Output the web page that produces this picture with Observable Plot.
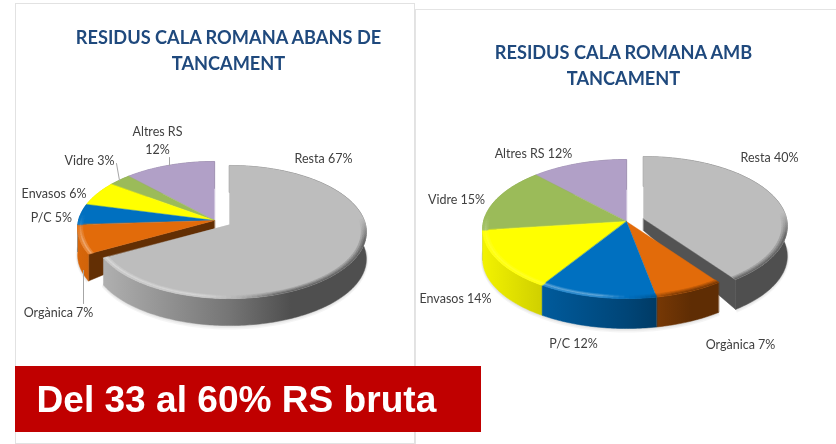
<!DOCTYPE html>
<html>
<head>
<meta charset="utf-8">
<script src="https://cdn.jsdelivr.net/npm/d3@7"></script>
<script src="https://cdn.jsdelivr.net/npm/@observablehq/plot@0.6"></script>
<style>html,body{margin:0;padding:0;background:#fff}svg{display:block;filter:blur(0.45px)}</style>
</head>
<body>
<div id="chart"></div>
<script>
// Data
const categories = ["Resta", "Orgànica", "P/C", "Envasos", "Vidre", "Altres RS"];
const valuesAbans = [67, 7, 5, 6, 3, 12];
const valuesAmb = [40, 7, 12, 14, 15, 12];
const titleAbans = ["RESIDUS CALA ROMANA ABANS DE", "TANCAMENT"];
const titleAmb = ["RESIDUS CALA ROMANA AMB", "TANCAMENT"];
const banner = "Del 33 al 60% RS bruta";

// Styles
const colors = ["#bdbdbd", "#e26b0a", "#0070c0", "#ffff00", "#9bbb59", "#b1a0c7"];

// Layout
const pieAbans = {id: "a", cx: 214, cy: 220, rx: 136, ry: 65.7, k: 0.113, dA: 8, dR: 27, ex: 15, ey: 4, cut: {slice: 1, edge: "start"}, last: 0};
const pieAmb = {id: "b", cx: 626, cy: 221, rx: 143, ry: 68.7, k: 0.108, dA: 12, dR: 30, ex: 17, ey: -3, cut: {slice: 0, edge: "end"}, last: -1};
const labelsAbans = [[323, 157], [58, 311], [51, 216], [53.5, 192], [89, 159], [157, 139]];
const labelsAmb = [[769, 156], [740, 343], [573, 342], [455, 297], [456, 198], [533, 152]];
const leaders = [[[169, 157], [169, 165]], [[116, 163], [119, 180]], [[83, 270], [83, 303]]];

const clamp = (v, a, b) => Math.max(a, Math.min(b, v));
const TAU = 2 * Math.PI;

function project(p, th, r, exploded) {
  const u = r * Math.sin(th), v = r * Math.cos(th), s = 1 / (1 + p.k * v);
  return {
    x: p.cx + (exploded ? p.ex : 0) + u * p.rx * s,
    y: p.cy + (exploded ? p.ey : 0) - v * p.ry * s,
    d: p.dA + (p.dR - p.dA) * r
  };
}
const shadeAt = t => t < 0 ? 0.62 + (-t) * 0.33 : t < 0.45 ? 0.62 - (t / 0.45) * 0.2 : 0.42;
function darken(c, f) { const q = d3.rgb(c); return d3.rgb(q.r * f, q.g * f, q.b * f).formatRgb(); }

let polyId = 0;
function addPoly(rows, pts, fill) {
  const z = polyId++;
  for (const q of pts) rows.push({x: q.x, y: q.y, z, fill});
}

// Horizontal shading of the pie's wall, one gradient per slice
function gradientDefs(pies) {
  const defs = d3.create("svg:defs");
  for (const p of pies) {
    colors.forEach((c, i) => {
      const off = i === 0 ? p.ex : 0;
      const g = defs.append("linearGradient").attr("id", `wall-${p.id}-${i}`)
        .attr("gradientUnits", "userSpaceOnUse")
        .attr("x1", p.cx + off - p.rx).attr("x2", p.cx + off + p.rx).attr("y1", 0).attr("y2", 0);
      for (const t of [-1, 0, 0.45, 1]) {
        g.append("stop").attr("offset", (t + 1) / 2).attr("stop-color", darken(c, shadeAt(t)));
      }
    });
  }
  return defs.node();
}

function buildPie(p, values) {
  const sides = [], tops = [], shadow = [];
  const total = d3.sum(values);
  const step = TAU / 360;
  let acc = 0;
  const slices = values.map((v, i) => {
    const a0 = acc / total * TAU; acc += v;
    return {i, a0, a1: acc / total * TAU, ex: i === 0};
  });
  // soft ground shadow: crescents below the front rim only
  for (const s of slices) {
    const lo = Math.max(s.a0, TAU / 4), hi = Math.min(s.a1, TAU * 3 / 4);
    if (hi <= lo) continue;
    for (const grow of [4, 2.5, 1.2]) {
      const n = Math.ceil((hi - lo) / step / 2), outer = [], inner = [];
      for (let j = 0; j <= n; j++) {
        const th = lo + (hi - lo) * j / n, e = project(p, th, 1, s.ex);
        inner.push({x: e.x, y: e.y + e.d - 2});
        outer.push({x: e.x + Math.sin(th) * grow * 0.5, y: e.y + e.d + grow * (-Math.cos(th))});
      }
      addPoly(shadow, [...outer, ...inner.reverse()], "#000");
    }
  }
  const cs = slices[p.cut.slice];
  const cutAngle = p.cut.edge === "start" ? cs.a0 : cs.a1;
  const key = s => s.i === p.last ? -2 : Math.cos((s.a0 + s.a1) / 2);
  const paint = [...slices].sort((a, b) => key(b) - key(a));
  for (const s of paint) {
    const base = colors[s.i];
    if (s.i === p.cut.slice) {
      const c = project(p, 0, 0, s.ex), e = project(p, cutAngle, 1, s.ex);
      addPoly(sides, [c, e, {x: e.x, y: e.y + e.d}, {x: c.x, y: c.y + c.d}], darken(base, 0.44));
    }
    const n = Math.max(2, Math.ceil((s.a1 - s.a0) / step));
    const upper = [], lower = [];
    for (let j = 0; j <= n; j++) {
      const a = project(p, s.a0 + (s.a1 - s.a0) * j / n, 1, s.ex);
      upper.push(a);
      lower.push({x: a.x, y: a.y + a.d});
    }
    addPoly(sides, [...upper, ...lower.reverse()], `url(#wall-${p.id}-${s.i})`);
    // top face
    addPoly(tops, [project(p, 0, 0, s.ex), ...upper], base);
  }
  // bevel bands on the rim
  const bands = [0.962, 0.975, 0.988, 1];
  for (const s of slices) {
    const base = colors[s.i];
    const n = Math.max(2, Math.ceil((s.a1 - s.a0) / (step * 2)));
    for (let b = 0; b < bands.length - 1; b++) {
      const w = (b + 1) / (bands.length - 1);
      for (let j = 0; j < n; j++) {
        const t0 = s.a0 + (s.a1 - s.a0) * j / n, t1 = s.a0 + (s.a1 - s.a0) * (j + 1) / n, mid = (t0 + t1) / 2;
        const front = clamp((0.1 - Math.cos(mid)) * 2.5, 0, 1);
        const m = project(p, mid, 1, s.ex);
        const t = (m.x - p.cx - (s.ex ? p.ex : 0)) / p.rx;
        const hi = clamp(-t * 5, 0, 1) * front * (b === 1 ? 0.4 : 0.2) * (s.i === 3 ? 0.4 : 1);
        const lo = clamp(t * 3, 0, 1) * clamp((0.08 - Math.cos(mid)) * 3, 0, 1) * w * 0.8;
        if (hi < 0.01 && lo < 0.01) continue;
        let col = d3.interpolateRgb(base, "#ffffff")(hi);
        col = d3.interpolateRgb(col, darken(base, shadeAt(t)))(lo);
        addPoly(tops, [project(p, t0, bands[b], s.ex), project(p, t1, bands[b], s.ex), project(p, t1, bands[b + 1], s.ex), project(p, t0, bands[b + 1], s.ex)], col);
      }
    }
  }
  return {sides, tops, shadow};
}

const A = buildPie(pieAbans, valuesAbans);
const B = buildPie(pieAmb, valuesAmb);

const labelRows = [
  ...categories.map((c, i) => ({
    text: c + (c === "Altres RS" ? "\n" : " ") + valuesAbans[i] + "%",
    x: labelsAbans[i][0], y: labelsAbans[i][1]
  })),
  ...categories.map((c, i) => ({
    text: c + " " + valuesAmb[i] + "%",
    x: labelsAmb[i][0], y: labelsAmb[i][1]
  }))
];
const titleRows = [
  {text: titleAbans[0], x: 228, y: 38}, {text: titleAbans[1], x: 228, y: 64},
  {text: titleAmb[0], x: 623, y: 53}, {text: titleAmb[1], x: 623, y: 79}
];

const polyMarks = set => [
  Plot.line(set.shadow, {x: "x", y: "y", z: "z", fill: "#000", fillOpacity: 0.04, stroke: "none", curve: "linear-closed"}),
  Plot.line(set.sides, {x: "x", y: "y", z: "z", fill: "fill", stroke: "fill", strokeWidth: 0.5, curve: "linear-closed"}),
  Plot.line(set.tops, {x: "x", y: "y", z: "z", fill: "fill", stroke: "fill", strokeWidth: 0.4, curve: "linear-closed"})
];

const chart = Plot.plot({
  width: 836, height: 444, margin: 0,
  x: {domain: [0, 836], range: [0, 836], axis: null},
  y: {domain: [0, 444], range: [0, 444], axis: null},
  marks: [
    () => gradientDefs([pieAbans, pieAmb]),
    Plot.rect([{x1: 415.5, x2: 900, y1: 9.5, y2: 500}], {x1: "x1", x2: "x2", y1: "y1", y2: "y2", fill: "#fff", stroke: "#e4e4e4", clip: "frame"}),
    Plot.rect([{x1: 15.5, x2: 414.5, y1: 3.5, y2: 443.5}], {x1: "x1", x2: "x2", y1: "y1", y2: "y2", fill: "#fff", stroke: "#e2e2e2"}),
    ...polyMarks(A),
    ...polyMarks(B),
    ...leaders.map(l => Plot.line(l, {x: d => d[0], y: d => d[1], stroke: "#a6a6a6", strokeWidth: 1})),
    Plot.text(labelRows, {x: "x", y: "y", text: "text", fontFamily: "Lato", fontSize: 12.5, fill: "#404040", lineHeight: 1.44}),
    Plot.text(titleRows, {x: "x", y: "y", text: "text", fontFamily: "Lato", fontSize: 18.2, fontWeight: 700, fill: "#1f497d"}),
    Plot.rect([{x1: 15, x2: 481, y1: 366, y2: 432}], {x1: "x1", x2: "x2", y1: "y1", y2: "y2", fill: "#c00000"}),
    Plot.text([banner], {x: 36, y: 400, text: d => d, textAnchor: "start", fontFamily: "Liberation Sans", fontSize: 37.1, fontWeight: 700, fill: "#fff"})
  ]
});
document.getElementById("chart").append(chart);
</script>
</body>
</html>
